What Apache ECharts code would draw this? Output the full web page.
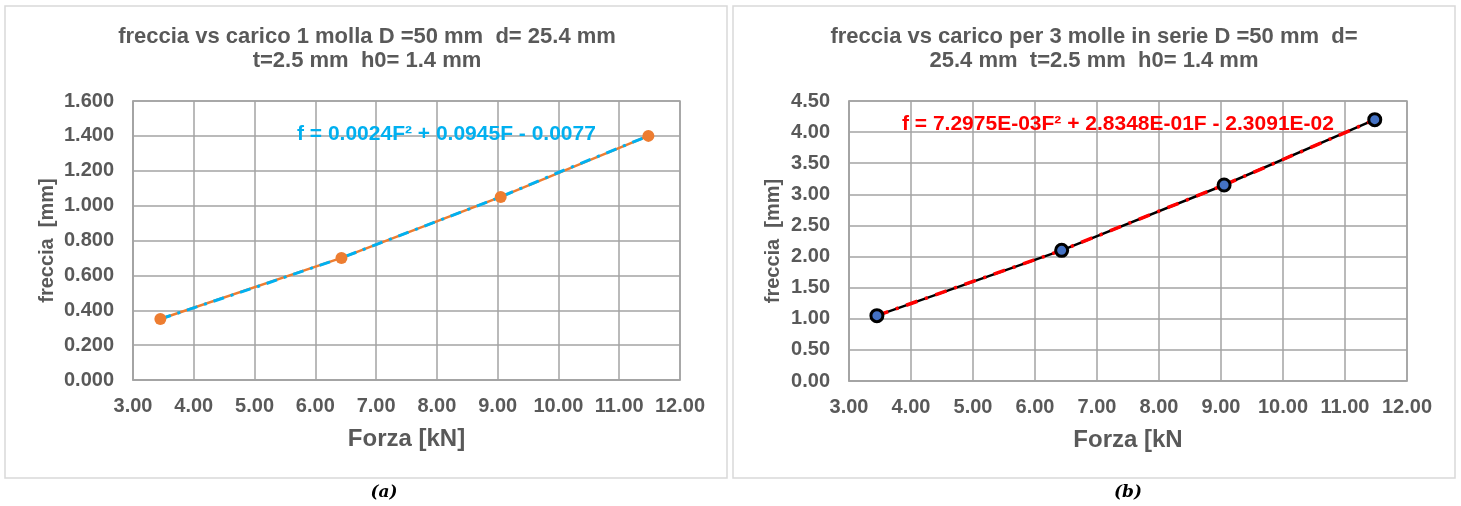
<!DOCTYPE html>
<html>
<head>
<meta charset="utf-8">
<script src="https://cdn.jsdelivr.net/npm/echarts@6/dist/echarts.min.js"></script>
<style>
  html, body { margin: 0; padding: 0; background: #fff; }
  #chart { width: 1461px; height: 506px; }
</style>
</head>
<body>
<div id="chart"></div>
<script>
// (a) una molla
const forzaA = [3.45, 6.43, 9.05, 11.48]
const frecciaA = [0.35, 0.70, 1.05, 1.40]
const trendForzaA = [3.45, 5.00, 6.43, 8.00, 9.05, 10.00, 11.48]
const trendFrecciaA = [0.35, 0.53, 0.70, 0.91, 1.05, 1.19, 1.40]

// (b) 3 molle in serie
const forzaB = [3.45, 6.43, 9.05, 11.48]
const frecciaB = [1.05, 2.10, 3.15, 4.20]
const trendForzaB = [3.45, 5.00, 6.43, 8.00, 9.05, 10.00, 11.48]
const trendFrecciaB = [1.05, 1.60, 2.10, 2.73, 3.15, 3.56, 4.20]

const xRange = [3, 12, 1]
const yRangeA = [0, 1.6, 0.2]
const yRangeB = [0, 4.5, 0.5]

const pairs = (xs, ys) => xs.map((x, i) => [x, ys[i]])

const font = '"Liberation Sans", Arial, sans-serif'
const grey = '#595959'
const gridGrey = '#a3a3a3'

const axisLabel = (digits, margin) => ({
  color: grey,
  fontFamily: font,
  fontWeight: 'bold',
  fontSize: 20,
  margin: margin,
  formatter: v => v.toFixed(digits)
})

const xAxisFor = (gridIndex, name) => ({
  type: 'value',
  gridIndex,
  min: xRange[0],
  max: xRange[1],
  interval: xRange[2],
  name,
  nameLocation: 'middle',
  nameGap: 47,
  nameTextStyle: { color: grey, fontFamily: font, fontWeight: 'bold', fontSize: 24 },
  axisLine: { show: true, lineStyle: { color: gridGrey, width: 1.5 } },
  axisTick: { show: false },
  axisLabel: axisLabel(2, 16),
  splitLine: { show: true, lineStyle: { color: gridGrey, width: 1.5 } }
})

const yAxisFor = (gridIndex, range, digits, gap) => ({
  type: 'value',
  gridIndex,
  min: range[0],
  max: range[1],
  interval: range[2],
  name: 'freccia  [mm]',
  nameLocation: 'middle',
  nameGap: gap,
  nameTextStyle: { color: grey, fontFamily: font, fontWeight: 'bold', fontSize: 20 },
  axisLine: { show: true, lineStyle: { color: gridGrey, width: 1.5 } },
  axisTick: { show: false },
  axisLabel: axisLabel(digits, 19),
  splitLine: { show: true, lineStyle: { color: gridGrey, width: 1.5 } }
})

const titleText = (text, left, top) => ({
  text,
  left,
  top,
  textAlign: 'center',
  padding: 0,
  textStyle: { color: grey, fontFamily: font, fontWeight: 'bold', fontSize: 22, lineHeight: 24 }
})

const eqText = (text, left, top, color) => ({
  text,
  left,
  top,
  padding: 0,
  textStyle: { color, fontFamily: font, fontWeight: 'bold', fontSize: 21, lineHeight: 21 }
})

const caption = (text, left) => ({
  text,
  left,
  top: 484,
  textAlign: 'center',
  padding: 0,
  textStyle: { color: '#000', fontFamily: '"DejaVu Serif", serif', fontStyle: 'italic', fontWeight: 'bold', fontSize: 17 }
})

const myChart = echarts.init(document.getElementById('chart'))
myChart.setOption({
  animation: false,
  backgroundColor: '#fff',
  graphic: [
    { type: 'rect', shape: { x: 5, y: 6, width: 722, height: 472 }, style: { fill: 'none', stroke: '#d9d9d9', lineWidth: 1.5 }, z: -1 },
    { type: 'rect', shape: { x: 733, y: 6, width: 722, height: 472 }, style: { fill: 'none', stroke: '#d9d9d9', lineWidth: 1.5 }, z: -1 }
  ],
  title: [
    titleText('freccia vs carico 1 molla D =50 mm  d= 25.4 mm\nt=2.5 mm  h0= 1.4 mm', 367, 25),
    titleText('freccia vs carico per 3 molle in serie D =50 mm  d=\n25.4 mm  t=2.5 mm  h0= 1.4 mm', 1094, 25),
    eqText('f = 0.0024F² + 0.0945F - 0.0077', 297, 124, '#00b0f0'),
    eqText('f = 7.2975E-03F² + 2.8348E-01F - 2.3091E-02', 902, 114, '#ff0000'),
    caption('(a)', 384),
    caption('(b)', 1128)
  ],
  grid: [
    { left: 133, top: 101, width: 547, height: 279, show: true, borderColor: gridGrey, borderWidth: 1.5 },
    { left: 849, top: 101, width: 558, height: 280, show: true, borderColor: gridGrey, borderWidth: 1.5 }
  ],
  xAxis: [
    xAxisFor(0, 'Forza [kN]'),
    xAxisFor(1, 'Forza [kN')
  ],
  yAxis: [
    yAxisFor(0, yRangeA, 3, 76),
    yAxisFor(1, yRangeB, 2, 66)
  ],
  series: [
    {
      name: 'freccia (a)',
      type: 'line',
      xAxisIndex: 0,
      yAxisIndex: 0,
      data: pairs(forzaA, frecciaA),
      symbol: 'circle',
      symbolSize: 12,
      itemStyle: { color: '#ed7d31' },
      lineStyle: { color: '#ed7d31', width: 2.5 }
    },
    {
      name: 'trend (a)',
      type: 'line',
      xAxisIndex: 0,
      yAxisIndex: 0,
      data: pairs(trendForzaA, trendFrecciaA),
      showSymbol: false,
      symbol: 'none',
      lineStyle: { color: '#00b0f0', width: 3, type: [11, 7, 3, 7] },
      z: 3
    },
    {
      name: 'freccia (b)',
      type: 'line',
      xAxisIndex: 1,
      yAxisIndex: 1,
      data: pairs(forzaB, frecciaB),
      symbol: 'circle',
      symbolSize: 12,
      itemStyle: { color: '#4472c4', borderColor: '#000', borderWidth: 3 },
      lineStyle: { color: '#000', width: 2.5 }
    },
    {
      name: 'trend (b)',
      type: 'line',
      xAxisIndex: 1,
      yAxisIndex: 1,
      data: pairs(trendForzaB, trendFrecciaB),
      showSymbol: false,
      symbol: 'none',
      lineStyle: { color: '#ff0000', width: 3.5, type: [12, 8, 3, 8] },
      z: 3
    }
  ]
})
</script>
</body>
</html>
